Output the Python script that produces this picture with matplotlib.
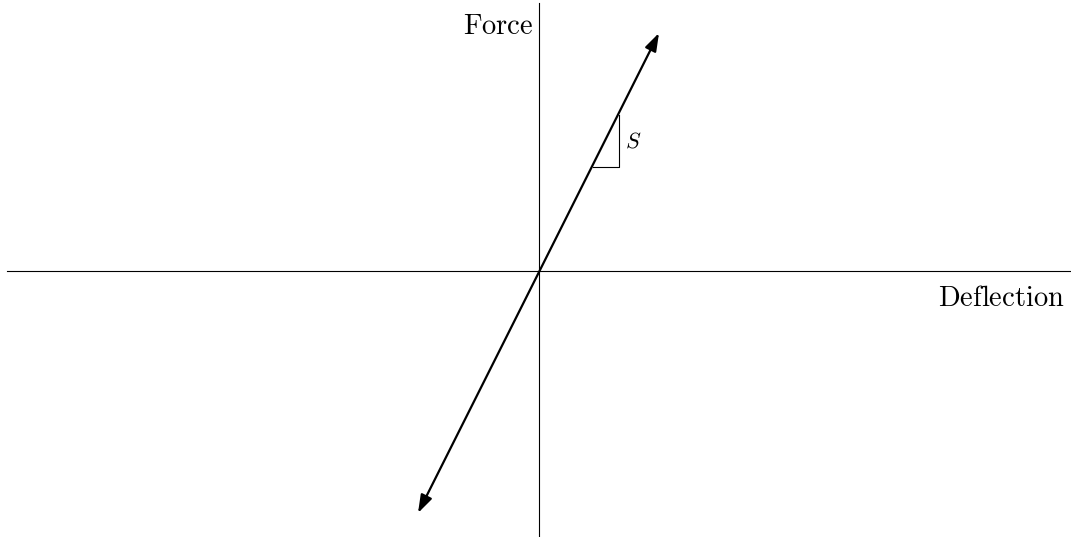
import matplotlib.pyplot as plt
from matplotlib.patches import FancyArrowPatch

plt.rcParams['mathtext.fontset'] = 'cm'

# axis extents (origin at the crossing)
x_axis = [-532, 532]
y_axis = [-266, 268]

# force-deflection line: slope S
line_x = [-121, 120]
line_y = [-242, 238]

# slope triangle
tri_x = [54, 80, 80]
tri_y = [104, 104, 156]

fig = plt.figure(figsize=(10.71, 5.37), dpi=100)
ax = fig.add_axes([0, 0, 1, 1])
ax.set_xlim(-539, 532)
ax.set_ylim(-266, 271)
ax.axis('off')

# the two axes
ax.plot(x_axis, [0, 0], color='black', lw=0.8)
ax.plot([0, 0], y_axis, color='black', lw=0.8)

# the line with arrows at both ends
arr = FancyArrowPatch((line_x[0], line_y[0]), (line_x[1], line_y[1]),
                      arrowstyle='<|-|>,head_length=0.6,head_width=0.2',
                      mutation_scale=18, color='black', lw=1.6,
                      shrinkA=0, shrinkB=0)
ax.add_patch(arr)

# slope triangle
ax.plot(tri_x, tri_y, color='black', lw=0.8)
ax.text(86, 130, r'$S$', fontsize=16, va='center', ha='left')

# labels
ax.text(-6, 245, r'$\mathrm{Force}$', fontsize=20.5, ha='right', va='center')
ax.text(526, -27, r'$\mathrm{Deflection}$', fontsize=20.5, ha='right', va='center')

plt.savefig('out.png', dpi=100)
